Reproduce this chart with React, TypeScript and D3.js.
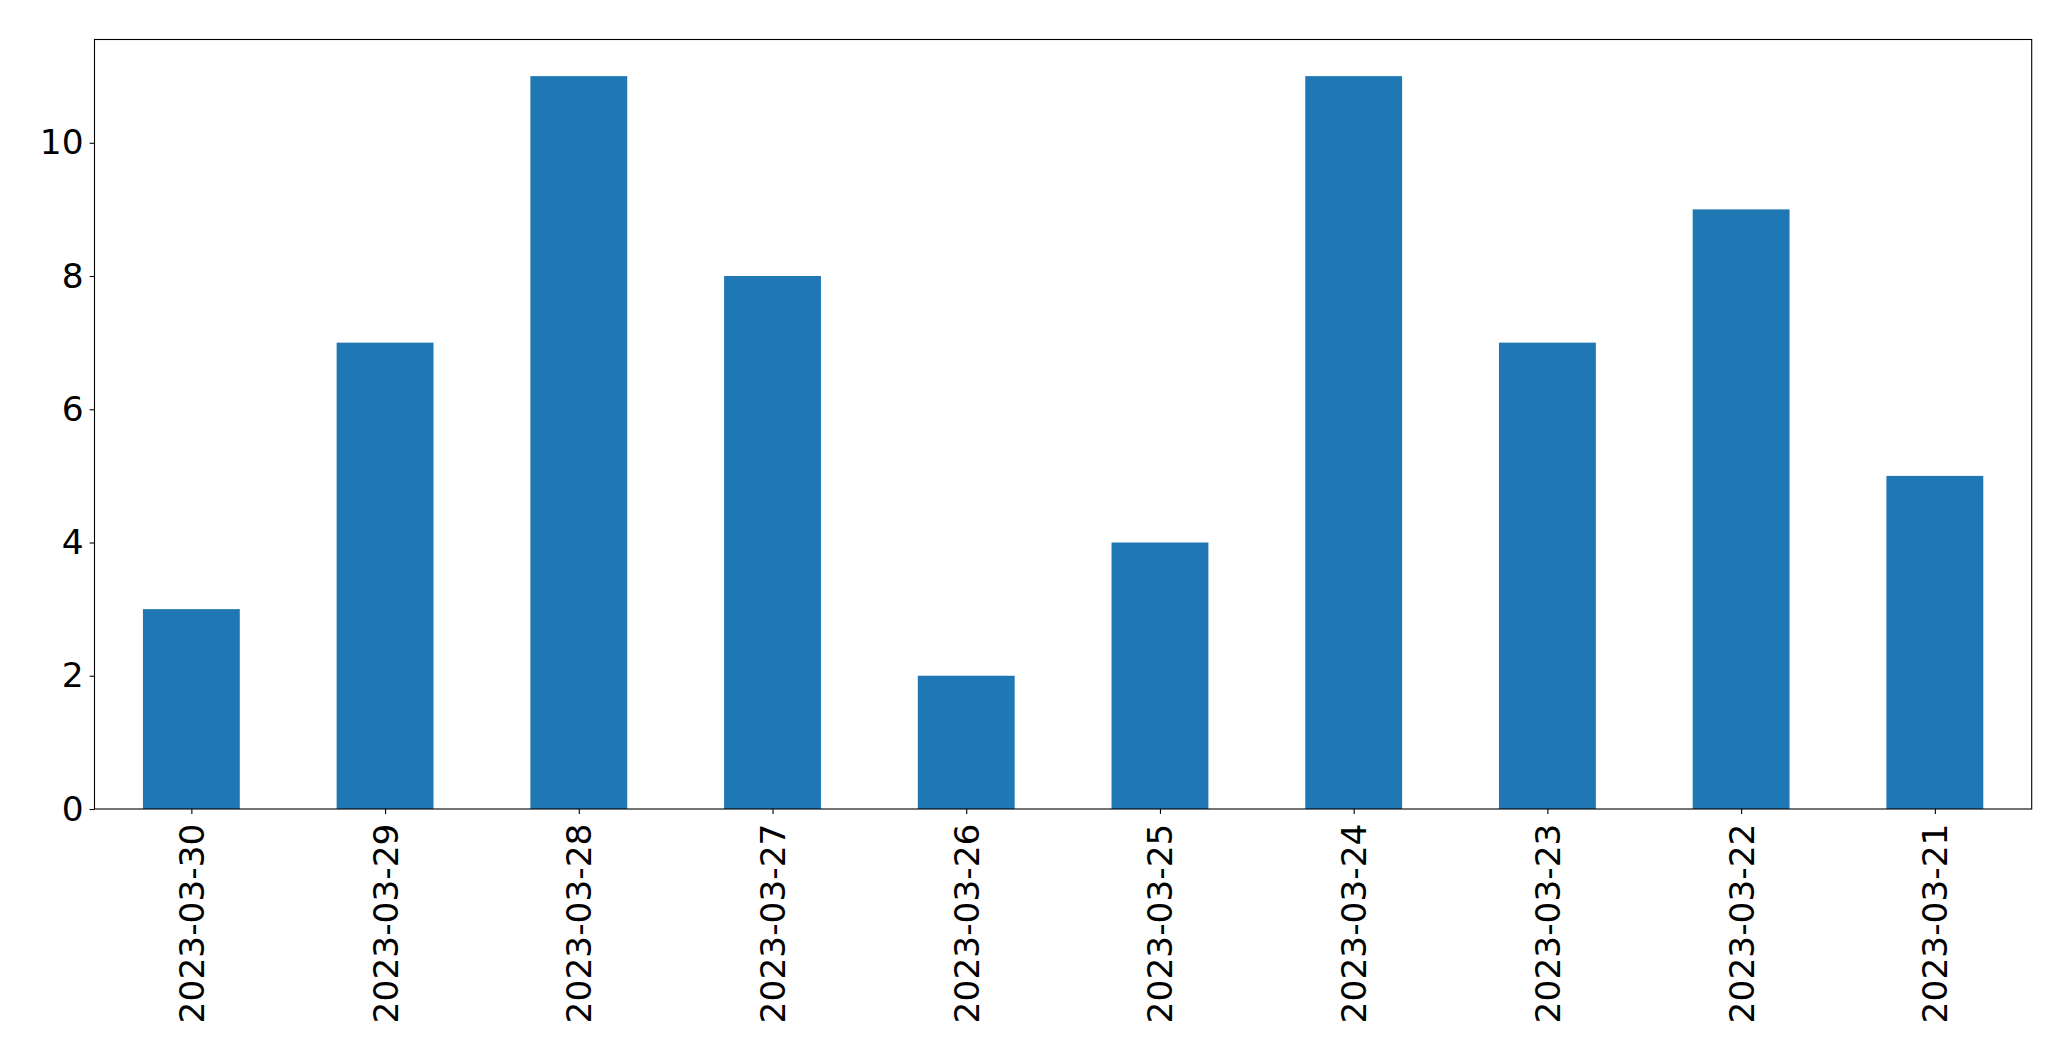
import React, { useEffect, useRef } from 'react';
import * as d3 from 'd3';

// Daily counts, in the order they appear on the chart
const dates = [
  '2023-03-30', '2023-03-29', '2023-03-28', '2023-03-27', '2023-03-26',
  '2023-03-25', '2023-03-24', '2023-03-23', '2023-03-22', '2023-03-21',
];
const counts = [3, 7, 11, 8, 2, 4, 11, 7, 9, 5];
const yTicks = [0, 2, 4, 6, 8, 10];

const App = () => {
  const svgRef = useRef<SVGSVGElement>(null);

  useEffect(() => {
    const totalW = 2071;
    const totalH = 1061;
    const margin = { top: 39.5, right: 39.3, bottom: 252, left: 94.5 };
    const width = totalW - margin.left - margin.right;
    const height = totalH - margin.top - margin.bottom;
    const font = 'DejaVu Sans, sans-serif';
    const fontSize = 34.4;

    const root = d3.select(svgRef.current);
    root.selectAll('*').remove();

    const svg = root.append('g')
      .attr('transform', `translate(${margin.left},${margin.top})`);

    // Linear x in bar-index units, like matplotlib's bar layout (-0.5 .. n-0.5)
    const xScale = d3.scaleLinear()
      .domain([-0.5, dates.length - 0.5])
      .range([0, width]);

    const yScale = d3.scaleLinear()
      .domain([0, d3.max(counts)! * 1.05])
      .range([height, 0]);

    // Bars
    svg.selectAll('rect.bar')
      .data(counts)
      .join('rect')
      .attr('class', 'bar')
      .attr('x', (_, i) => xScale(i - 0.25))
      .attr('width', xScale(0.25) - xScale(-0.25))
      .attr('y', d => yScale(d))
      .attr('height', d => yScale(0) - yScale(d))
      .attr('fill', '#1f77b4');

    // Y axis
    const yAxis = svg.append('g')
      .call(d3.axisLeft(yScale).tickValues(yTicks).tickFormat(d3.format('d')).tickSize(4.9).tickPadding(6));
    yAxis.select('.domain').remove();
    yAxis.selectAll('line').attr('stroke', '#000').attr('stroke-width', 1.1);
    yAxis.selectAll('text')
      .attr('fill', '#000')
      .style('font-family', font)
      .style('font-size', `${fontSize}px`);

    // X axis with rotated date labels
    const xAxis = svg.append('g')
      .attr('transform', `translate(0,${height})`)
      .call(d3.axisBottom(xScale)
        .tickValues(d3.range(dates.length))
        .tickFormat((d) => dates[d as number])
        .tickSize(4.9)
        .tickPadding(0));
    xAxis.select('.domain').remove();
    xAxis.selectAll('line').attr('stroke', '#000').attr('stroke-width', 1.1);
    xAxis.selectAll('text')
      .attr('fill', '#000')
      .style('font-family', font)
      .style('font-size', `${fontSize}px`)
      .attr('dy', null)
      .attr('y', 0)
      .attr('transform', 'translate(0,14.5) rotate(-90)')
      .attr('dominant-baseline', 'central')
      .style('text-anchor', 'end');

    // Frame
    svg.append('rect')
      .attr('x', 0)
      .attr('y', 0)
      .attr('width', width)
      .attr('height', height)
      .attr('fill', 'none')
      .attr('stroke', '#000')
      .attr('stroke-width', 1.1);
  }, []);

  return (
    <div style={{ position: 'absolute', left: 0, top: 0, background: '#fff' }}>
      <svg ref={svgRef} width={2071} height={1061} style={{ display: 'block' }}></svg>
    </div>
  );
};

export default App;
